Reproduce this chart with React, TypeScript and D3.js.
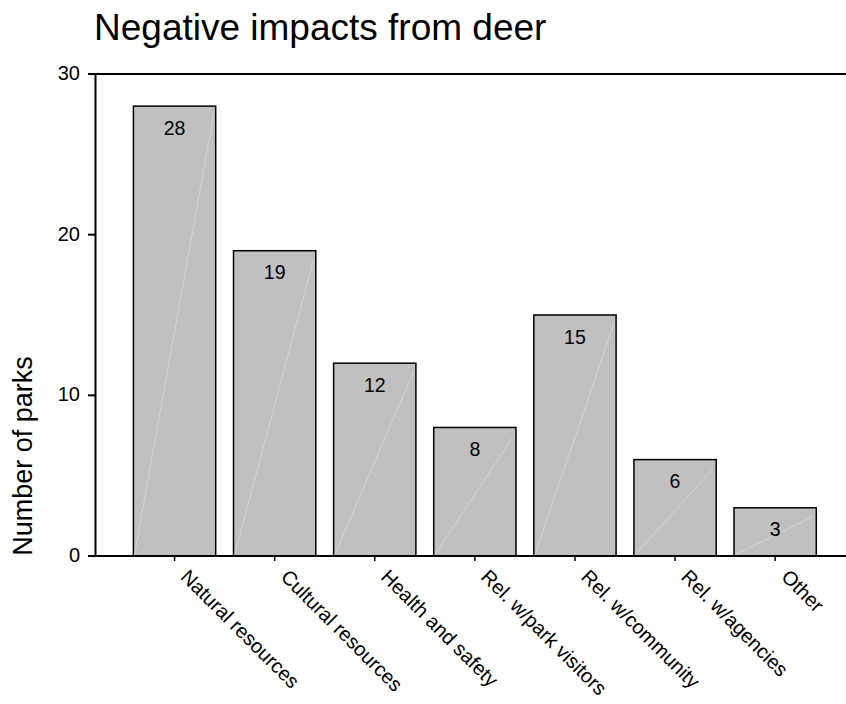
import React from "react";
import * as d3 from "d3";

const categories = [
  "Natural resources",
  "Cultural resources",
  "Health and safety",
  "Rel. w/park visitors",
  "Rel. w/community",
  "Rel. w/agencies",
  "Other",
];
const values = [28, 19, 12, 8, 15, 6, 3];
const yTicks = [0, 10, 20, 30];

const W = 846;
const H = 704;
const font = "Liberation Sans, Arial, sans-serif";

export default function App() {
  const axisX = 95.5;
  const y0 = 556;
  const yTop = 74;
  const x = d3
    .scaleBand<string>()
    .domain(categories)
    .range([133.5 - 9, 133.5 - 9 + 100.1 * 7])
    .paddingInner(0.178)
    .paddingOuter(0.089);
  const y = d3.scaleLinear().domain([0, 30]).range([y0, yTop]);
  const bw = x.bandwidth();

  return (
    <svg
      width={W}
      height={H}
      style={{ position: "absolute", left: 0, top: 0 }}
      fontFamily={font}
    >
      <rect width={W} height={H} fill="#fff" />
      <text x={94} y={40} fontSize={37} fill="#000">
        Negative impacts from deer
      </text>
      {values.map((v, i) => {
        const c = categories[i];
        const bx = x(c)!;
        const by = y(v);
        return (
          <g key={c}>
            <rect
              x={bx}
              y={by}
              width={bw}
              height={y0 - by}
              fill="#c0c0c0"
              stroke="#000"
              strokeWidth={1.5}
            />
            <line
              x1={bx + 1}
              y1={y0 - 1}
              x2={bx + bw - 2}
              y2={by + 8}
              stroke="#d6d6d6"
              strokeWidth={0.8}
            />
            <text
              x={bx + bw / 2}
              y={by + 28.5}
              textAnchor="middle"
              fontSize={19.5}
              fill="#000"
            >
              {v}
            </text>
          </g>
        );
      })}
      <line x1={axisX} y1={yTop} x2={axisX} y2={y0} stroke="#000" strokeWidth={2} />
      <line x1={88} y1={yTop} x2={W} y2={yTop} stroke="#000" strokeWidth={2} />
      <line x1={88} y1={y0} x2={W} y2={y0} stroke="#000" strokeWidth={2} />
      {yTicks.map((t) => (
        <g key={t}>
          <line x1={88} x2={axisX} y1={y(t)} y2={y(t)} stroke="#000" strokeWidth={2} />
          <text
            x={80}
            y={y(t)}
            dy="0.3em"
            textAnchor="end"
            fontSize={20}
            fill="#000"
          >
            {t}
          </text>
        </g>
      ))}
      {categories.map((c) => {
        const cx = x(c)! + bw / 2;
        return (
          <g key={c}>
            <line x1={cx} x2={cx} y1={y0} y2={y0 + 5} stroke="#000" strokeWidth={1.5} />
            <text
              transform={`translate(${cx + 5},${y0 + 22}) rotate(45)`}
              fontSize={20}
              fill="#000"
            >
              {c}
            </text>
          </g>
        );
      })}
      <text
        transform={`translate(32,456) rotate(-90)`}
        textAnchor="middle"
        fontSize={27}
        fill="#000"
      >
        Number of parks
      </text>
    </svg>
  );
}
